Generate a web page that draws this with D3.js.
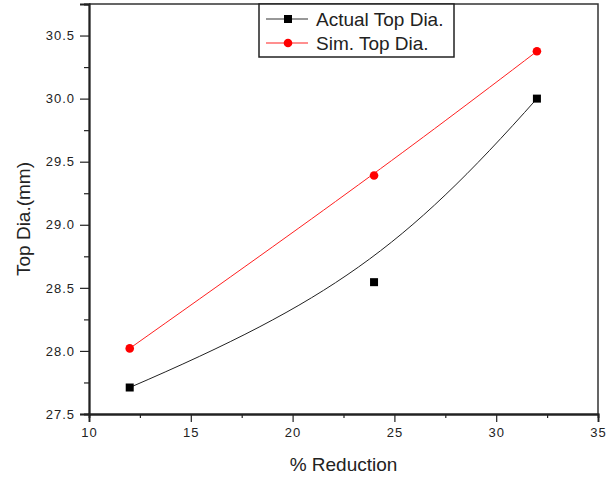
<!DOCTYPE html>
<html>
<head>
<meta charset="utf-8">
<script src="https://cdn.jsdelivr.net/npm/d3@7"></script>
<style>
  body { margin: 0; background: #fff; }
  text { font-family: "Liberation Sans", Arial, sans-serif; fill: #222; }
</style>
</head>
<body>
<div id="chart"></div>
<script>
// data
var reduction = [12, 24, 32];
var actualTopDia = [27.71, 28.545, 30.0];
var simTopDia = [28.02, 29.39, 30.375];

var xMajor = [10, 15, 20, 25, 30, 35];
var xMinor = [12.5, 17.5, 22.5, 27.5, 32.5];
var yMajor = [27.5, 28.0, 28.5, 29.0, 29.5, 30.0, 30.5];
var yMinor = [27.75, 28.25, 28.75, 29.25, 29.75, 30.25, 30.75];

var seriesNames = ["Actual Top Dia.", "Sim. Top Dia."];

var W = 616, H = 478;
var margin = {top: 4, right: 18, bottom: 64, left: 89};
var w = W - margin.left - margin.right,
    h = H - margin.top - margin.bottom;

var svg = d3.select("#chart")
    .append("svg")
    .attr("width", W)
    .attr("height", H);

var g = svg.append("g")
    .attr("transform", "translate(" + margin.left + "," + margin.top + ")");

var x = d3.scaleLinear().domain([10, 35]).range([0, w]);
var y = d3.scaleLinear().domain([27.5, 30.75]).range([h, 0]);

// frame (top + right)
g.append("path")
    .attr("d", "M0,0H" + w + "V" + h)
    .attr("fill", "none")
    .attr("stroke", "#333")
    .attr("stroke-width", 1.5);

// axes
g.append("g")
    .attr("transform", "translate(0," + h + ")")
    .call(d3.axisBottom(x).tickValues(xMajor).tickSize(8).tickPadding(6));
g.append("g")
    .attr("transform", "translate(0," + h + ")")
    .call(d3.axisBottom(x).tickValues(xMinor).tickSize(4).tickFormat(""));

g.append("g")
    .call(d3.axisLeft(y).tickValues(yMajor).tickSize(9).tickPadding(5)
        .tickFormat(d3.format(".1f")));
g.append("g")
    .call(d3.axisLeft(y).tickValues(yMinor).tickSize(5).tickFormat(""));

g.selectAll(".domain").attr("stroke", "#222").attr("stroke-width", 1.8);
g.selectAll(".tick line").attr("stroke", "#222").attr("stroke-width", 1.2);
g.selectAll(".tick text")
    .attr("font-size", "13px")
    .attr("letter-spacing", "1px")
    .attr("fill", "#222");

// axis titles
svg.append("text")
    .attr("x", margin.left + w / 2)
    .attr("y", 471)
    .attr("text-anchor", "middle")
    .attr("font-size", "19px")
    .text("% Reduction");

svg.append("text")
    .attr("transform", "translate(30,219) rotate(-90)")
    .attr("text-anchor", "middle")
    .attr("font-size", "19px")
    .text("Top Dia.(mm)");

// smooth spline through the 3 points, pulled toward the middle one
function curveSpline(context) {
    var pts = [];
    var k = 0.82;
    return {
        areaStart: function() {},
        areaEnd: function() {},
        lineStart: function() { pts = []; },
        point: function(px, py) { pts.push([px, py]); },
        lineEnd: function() {
            var a = pts[0], b = pts[1], c = pts[2];
            context.moveTo(a[0], a[1]);
            context.bezierCurveTo(
                a[0] + k * (b[0] - a[0]), a[1] + k * (b[1] - a[1]),
                c[0] + k * (b[0] - c[0]), c[1] + k * (b[1] - c[1]),
                c[0], c[1]);
        }
    };
}

var line = d3.line()
    .x(function(d) { return x(d[0]); })
    .y(function(d) { return y(d[1]); })
    .curve(curveSpline);

var actual = d3.zip(reduction, actualTopDia);
var sim = d3.zip(reduction, simTopDia);

g.append("path")
    .datum(actual)
    .attr("d", line)
    .attr("fill", "none")
    .attr("stroke", "#222")
    .attr("stroke-width", 1);

g.append("path")
    .datum(sim)
    .attr("d", line)
    .attr("fill", "none")
    .attr("stroke", "#ff2020")
    .attr("stroke-width", 1);

g.selectAll(".sq")
    .data(actual)
    .enter()
    .append("rect")
    .attr("x", function(d) { return x(d[0]) - 4; })
    .attr("y", function(d) { return y(d[1]) - 4; })
    .attr("width", 8)
    .attr("height", 8)
    .attr("fill", "#000");

g.selectAll(".dot")
    .data(sim)
    .enter()
    .append("circle")
    .attr("cx", function(d) { return x(d[0]); })
    .attr("cy", function(d) { return y(d[1]); })
    .attr("r", 4.3)
    .attr("fill", "#ff0000");

// legend
var lg = svg.append("g").attr("transform", "translate(259,4)");
lg.append("rect")
    .attr("width", 195)
    .attr("height", 53)
    .attr("fill", "#fff")
    .attr("stroke", "#222")
    .attr("stroke-width", 1.5);

var rows = [
    {name: seriesNames[0], color: "#333", mark: "square"},
    {name: seriesNames[1], color: "#ff2020", mark: "circle"}
];

rows.forEach(function(r, i) {
    var cy = 15 + i * 24;
    lg.append("line")
        .attr("x1", 7).attr("x2", 49)
        .attr("y1", cy).attr("y2", cy)
        .attr("stroke", r.color)
        .attr("stroke-width", 1.2);
    if (r.mark === "square") {
        lg.append("rect")
            .attr("x", 25).attr("y", cy - 4)
            .attr("width", 8).attr("height", 8)
            .attr("fill", "#000");
    } else {
        lg.append("circle")
            .attr("cx", 29).attr("cy", cy)
            .attr("r", 4.3)
            .attr("fill", "#ff0000");
    }
    lg.append("text")
        .attr("x", 57)
        .attr("y", cy + 7)
        .attr("font-size", "19px")
        .text(r.name);
});
</script>
</body>
</html>
